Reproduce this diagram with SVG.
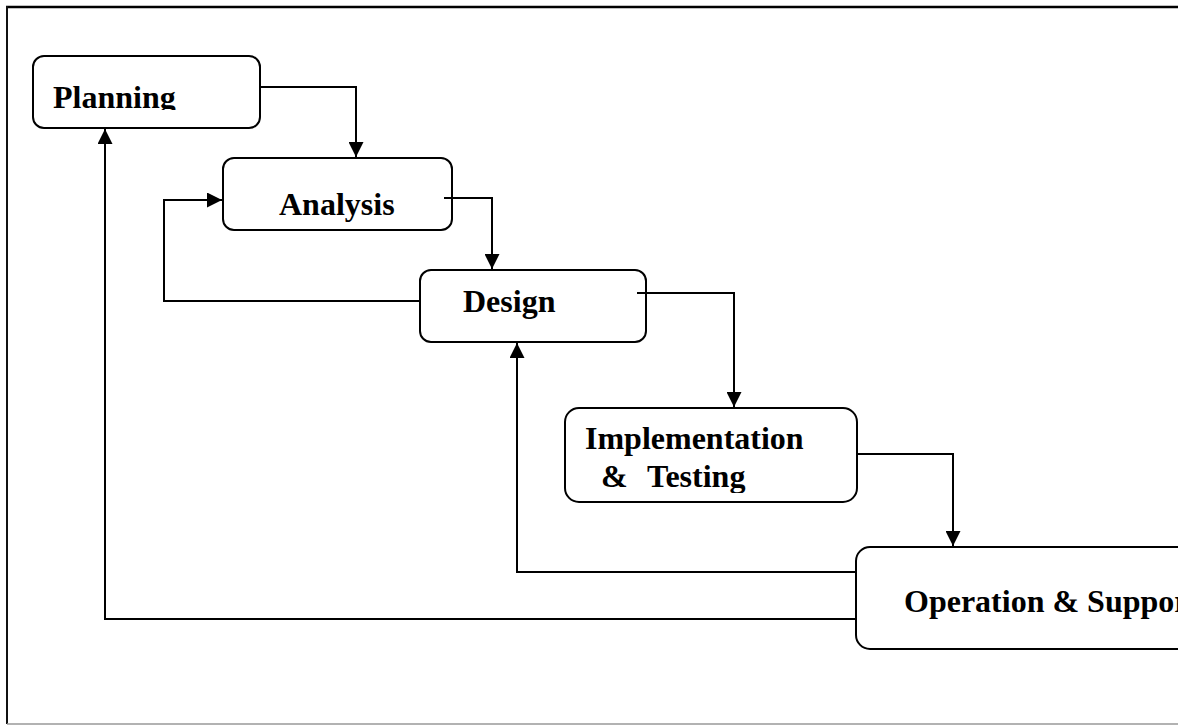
<svg xmlns="http://www.w3.org/2000/svg" width="1197" height="725" viewBox="0 0 1197 725">
  <defs>
    <style>
      .box { fill: #fff; stroke: #000; stroke-width: 2; }
      .lbl { font-family: "Liberation Serif", "Times New Roman", serif; font-weight: bold; font-size: 32px; fill: #000; }
      .wire { fill: none; stroke: #000; stroke-width: 2; }
    </style>
    <marker id="arrow" markerUnits="userSpaceOnUse" markerWidth="15" markerHeight="15" refX="15" refY="7.5" orient="auto">
      <path d="M0,0 L15,7.5 L0,15 Z" fill="#000"/>
    </marker>
    <clipPath id="page"><rect x="0" y="0" width="1178" height="725"/></clipPath>
    <clipPath id="clipPlanning"><rect x="33" y="57" width="226" height="53"/></clipPath>
    <clipPath id="clipImpl"><rect x="565" y="408" width="291" height="85"/></clipPath>
  </defs>

  <g clip-path="url(#page)">
    <!-- page frame -->
    <g id="frame">
      <line x1="6" y1="7" x2="1178" y2="7" stroke="#000" stroke-width="2.5"/>
      <line x1="7" y1="6" x2="7" y2="724" stroke="#111" stroke-width="2"/>
      <line x1="7" y1="724" x2="1178" y2="724" stroke="#999" stroke-width="1.5"/>
    </g>

    <!-- connectors -->
    <g id="connectors">
      <path class="wire" d="M260,87 H356 V157" marker-end="url(#arrow)"/>
      <path class="wire" d="M444,198 H492 V269" marker-end="url(#arrow)"/>
      <path class="wire" d="M637,293 H734 V407" marker-end="url(#arrow)"/>
      <path class="wire" d="M857,454 H953 V546" marker-end="url(#arrow)"/>
      <path class="wire" d="M420,301 H164 V200 H222" marker-end="url(#arrow)"/>
      <path class="wire" d="M856,572 H517 V343" marker-end="url(#arrow)"/>
      <path class="wire" d="M856,619 H105 V129" marker-end="url(#arrow)"/>
    </g>

    <g id="planning">
      <rect class="box" x="33" y="56" width="227" height="72" rx="11"/>
      <text class="lbl" x="53" y="108" clip-path="url(#clipPlanning)">Planning</text>
    </g>

    <g id="analysis">
      <rect class="box" x="223" y="158" width="229" height="72" rx="11"/>
      <path class="wire" d="M444,198 H452"/>
      <text class="lbl" x="279" y="215">Analysis</text>
    </g>

    <g id="design">
      <rect class="box" x="420" y="270" width="226" height="72" rx="11"/>
      <path class="wire" d="M637,293 H646"/>
      <text class="lbl" x="463" y="312">Design</text>
    </g>

    <g id="implementation">
      <rect class="box" x="565" y="408" width="292" height="94" rx="14"/>
      <g clip-path="url(#clipImpl)">
        <text class="lbl" x="585" y="449">Implementation</text>
        <text class="lbl" y="487"><tspan x="601">&amp; </tspan><tspan x="647">Testing</tspan></text>
      </g>
    </g>

    <g id="operation">
      <rect class="box" x="856" y="547" width="360" height="102" rx="14"/>
      <text class="lbl" x="904" y="612">Operation &amp; Support</text>
    </g>
  </g>
</svg>
